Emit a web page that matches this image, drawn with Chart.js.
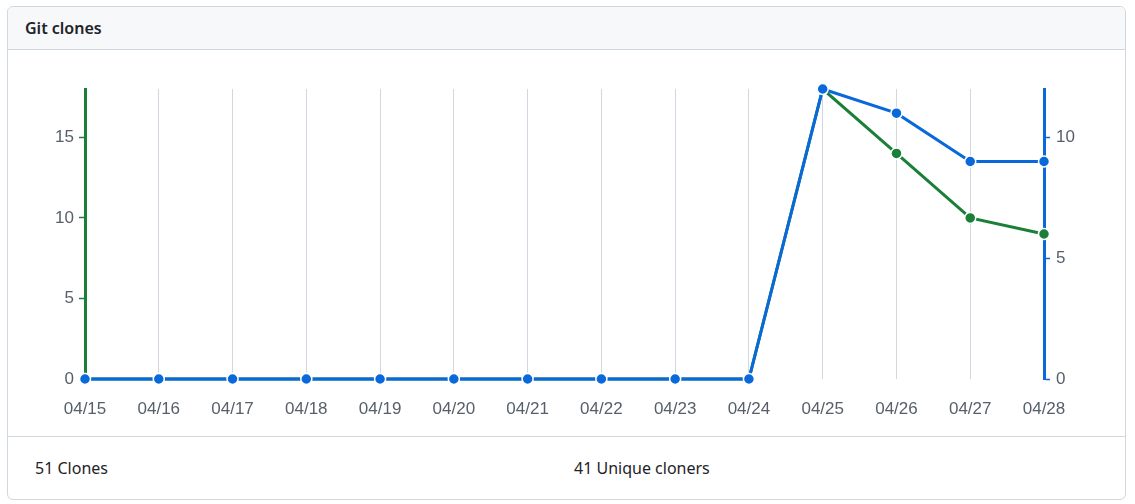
<!DOCTYPE html>
<html>
<head>
<meta charset="utf-8">
<script src="https://cdn.jsdelivr.net/npm/chart.js@4.4.1/dist/chart.umd.min.js"></script>
<style>
  html, body { margin: 0; padding: 0; background: #ffffff; }
  body { width: 1135px; height: 504px; position: relative; overflow: hidden; font-family: "Noto Sans", "Open Sans", sans-serif; color: #1f2328; }
  .box { position: absolute; left: 7px; top: 6px; width: 1117px; height: 492px; border: 1px solid #d0d7de; border-radius: 6px; overflow: hidden; background: #fff; }
  .head { position: absolute; left: 0; top: 0; right: 0; height: 42px; background: #f6f8fa; border-bottom: 1px solid #d0d7de; }
  .head span { position: absolute; left: 17px; top: 10px; font-size: 16px; font-weight: 600; }
  .chartwrap { position: absolute; left: 0; top: 43px; width: 1117px; height: 386px; }
  .foot { position: absolute; left: 0; right: 0; top: 429px; bottom: 0; border-top: 1px solid #d0d7de; font-size: 16px; }
  .foot span { position: absolute; top: 20px; }
</style>
</head>
<body>
<div class="box">
  <div class="head"><span>Git clones</span></div>
  <div class="chartwrap"><canvas id="c"></canvas></div>
  <div class="foot"><span style="left:27px">51 Clones</span><span style="left:566px">41 Unique cloners</span></div>
</div>
<script>
const categories = ["04/15","04/16","04/17","04/18","04/19","04/20","04/21","04/22","04/23","04/24","04/25","04/26","04/27","04/28"];
const clones = [0,0,0,0,0,0,0,0,0,0,18,14,10,9];
const uniqueCloners = [0,0,0,0,0,0,0,0,0,0,12,11,9,9];
const leftTicks = [0,5,10,15];
const rightTicks = [0,5,10];

const GREEN = '#1a7f37';
const BLUE = '#0969da';
const TICKC = '#57606a';

new Chart(document.getElementById('c'), {
  type: 'line',
  data: {
    labels: categories,
    datasets: [
      {
        label: 'Clones', data: clones, yAxisID: 'yL', order: 1,
        borderColor: GREEN, backgroundColor: GREEN, borderWidth: 3,
        pointRadius: 5.5, pointBackgroundColor: GREEN, pointBorderColor: '#fff', pointBorderWidth: 1.5,
        tension: 0, clip: false
      },
      {
        label: 'Unique cloners', data: uniqueCloners, yAxisID: 'yR', order: 0,
        borderColor: BLUE, backgroundColor: BLUE, borderWidth: 3,
        pointRadius: 5.5, pointBackgroundColor: BLUE, pointBorderColor: '#fff', pointBorderWidth: 1.5,
        tension: 0, clip: false
      }
    ]
  },
  options: {
    responsive: true, maintainAspectRatio: false, animation: false,
    layout: { padding: { top: 39, bottom: 0, left: 0, right: 0 } },
    plugins: { legend: { display: false }, tooltip: { enabled: false } },
    scales: {
      x: {
        offset: false,
        grid: { color: '#d0d7de', lineWidth: 1, drawTicks: false },
        border: { display: false },
        ticks: { color: TICKC, font: { family: 'Liberation Sans', size: 17 }, padding: 20, maxRotation: 0, autoSkip: false },
        afterFit: (s) => { s.height = 386 - 39 - 290; }
      },
      yL: {
        position: 'left', min: 0, max: 18,
        afterBuildTicks: (s) => { s.ticks = leftTicks.map(v => ({ value: v })); },
        grid: { drawOnChartArea: false, color: GREEN, tickLength: 6, tickWidth: 1.5 },
        border: { display: true, color: GREEN, width: 3 },
        ticks: { color: TICKC, font: { family: 'Liberation Sans', size: 17 }, padding: 5 },
        afterFit: (s) => { s.width = 77; }
      },
      yR: {
        position: 'right', min: 0, max: 12,
        afterBuildTicks: (s) => { s.ticks = rightTicks.map(v => ({ value: v })); },
        grid: { drawOnChartArea: false, color: BLUE, tickLength: 6, tickWidth: 1.5 },
        border: { display: true, color: BLUE, width: 3 },
        ticks: { color: TICKC, font: { family: 'Liberation Sans', size: 17 }, padding: 6 },
        afterFit: (s) => { s.width = 81; }
      }
    }
  }
});
</script>
</body>
</html>
